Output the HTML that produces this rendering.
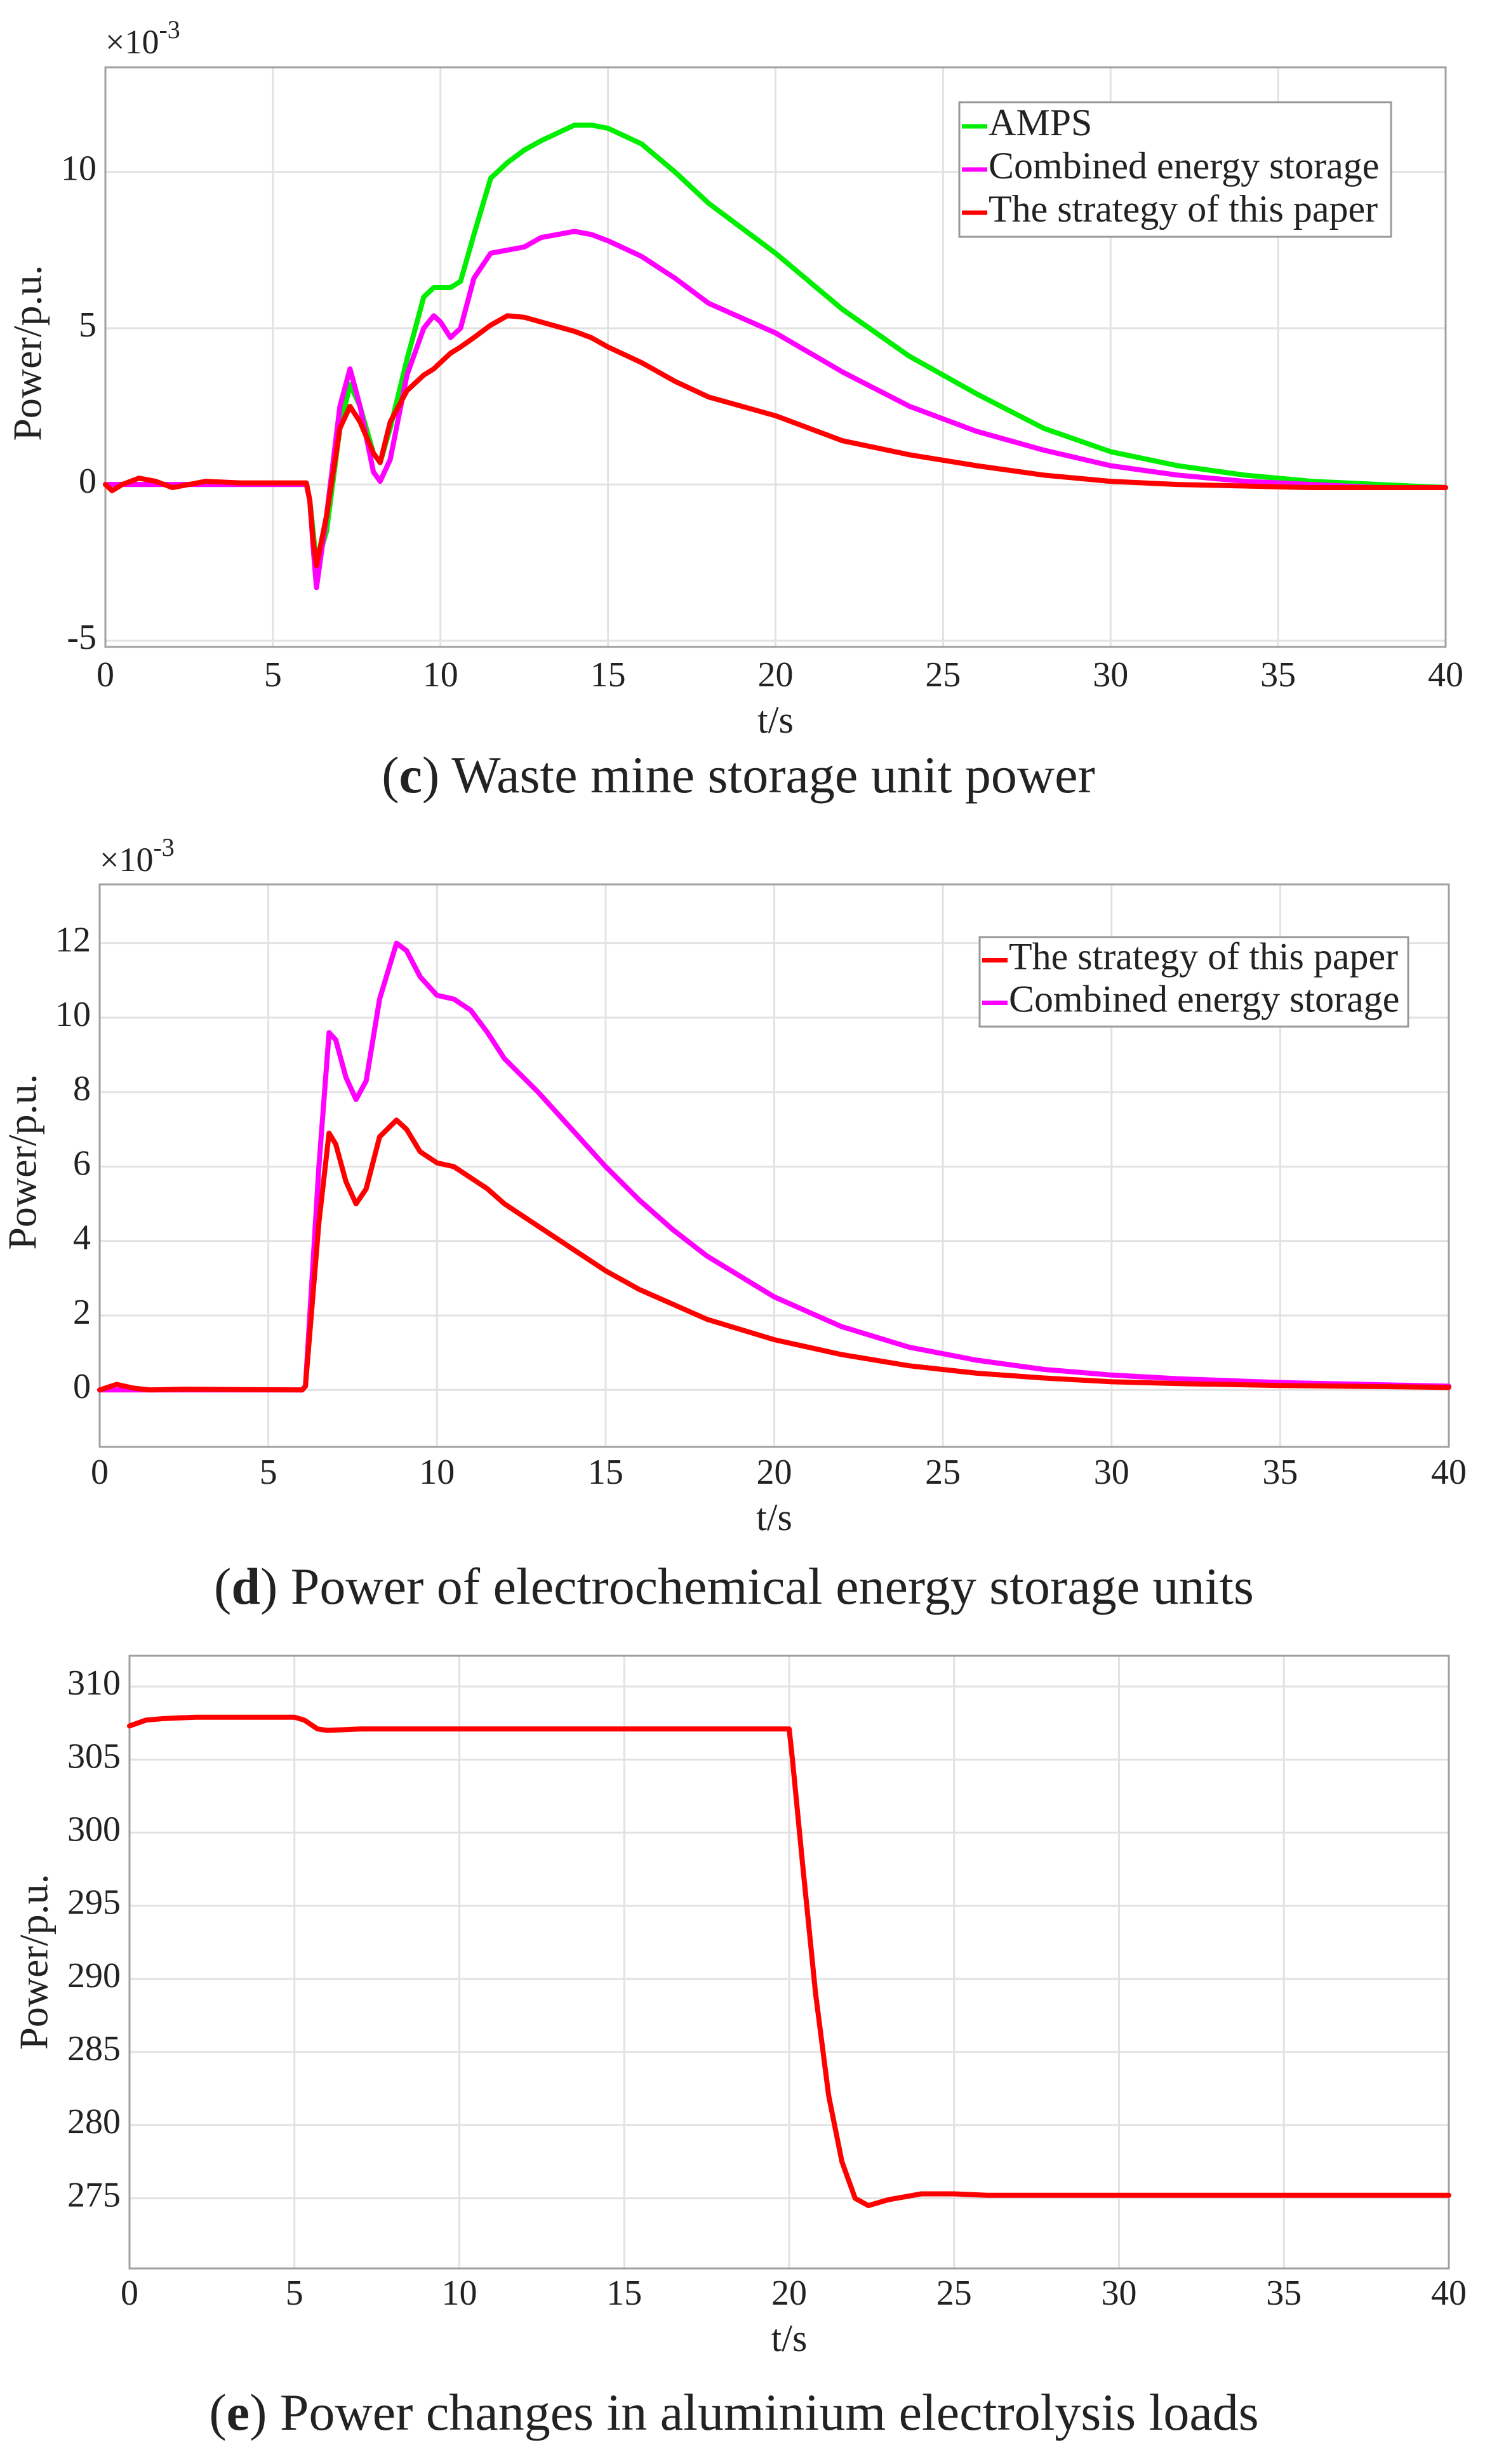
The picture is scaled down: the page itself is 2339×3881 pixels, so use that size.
<!DOCTYPE html>
<html><head><meta charset="utf-8">
<style>
html,body{margin:0;padding:0;background:#fff;}
svg{display:block;}
text{font-family:"Liberation Serif",serif;fill:#222;}
</style></head>
<body>
<svg id="fig" width="2339" height="3881" viewBox="0 0 2339 3881" xmlns="http://www.w3.org/2000/svg">
<rect x="0" y="0" width="2339" height="3881" fill="#fff"/>
</svg>
<script>
// ---------- Chart (c) data ----------
const cT = [0,0.2,0.5,1,1.5,2,3,4,5,6,6.1,6.2,6.3,6.6,7,7.3,7.6,8,8.2,8.5,9,9.5,9.8,10,10.3,10.6,11,11.5,12,12.5,13,14,14.5,15,16,17,18,20,22,24,26,28,30,32,34,36,38,40];
const cAMPS = [0,0,0,0,0,0,0,0,0,0,-0.5,-1.5,-2.6,-1.5,1.8,3.2,2.5,1,0.7,1.8,4,6,6.3,6.3,6.3,6.5,8,9.8,10.3,10.7,11,11.5,11.5,11.4,10.9,10,9,7.4,5.6,4.1,2.9,1.8,1.05,0.6,0.3,0.1,0,-0.1];
const cComb = [0,0,0,0,0,0,0,0,0,0,-0.5,-2,-3.3,-1,2.5,3.7,2.5,0.4,0.1,0.8,3.5,5,5.4,5.2,4.7,5,6.6,7.4,7.5,7.6,7.9,8.1,8,7.8,7.3,6.6,5.8,4.85,3.6,2.5,1.7,1.1,0.6,0.3,0.1,0,-0.1,-0.1];
const cStrat = [0,-0.2,0,0.2,0.1,-0.1,0.1,0.05,0.05,0.05,-0.5,-1.8,-2.6,-1,1.8,2.5,2,1,0.7,2,3,3.5,3.7,3.9,4.2,4.4,4.7,5.1,5.4,5.35,5.2,4.9,4.7,4.4,3.9,3.3,2.8,2.2,1.4,0.95,0.6,0.3,0.1,0,-0.05,-0.1,-0.1,-0.1];
const cXTicks = [0,5,10,15,20,25,30,35,40];
const cYTicks = [-5,0,5,10];
const cYTickLabels = ["-5","0","5","10"];

// ---------- Chart (d) data ----------
const dT = [0,0.5,1,1.5,2.5,6,6.1,6.5,6.8,7,7.3,7.6,7.9,8.3,8.8,9.1,9.5,10,10.5,11,11.5,12,13,14,15,16,17,18,20,22,24,26,28,30,32,35,40];
const dComb = [0,0,0,0,0,0,0.1,6,9.6,9.4,8.4,7.8,8.3,10.5,12,11.8,11.1,10.6,10.5,10.2,9.6,8.9,8,7,6,5.1,4.3,3.6,2.5,1.7,1.15,0.8,0.55,0.4,0.3,0.2,0.1];
const dStrat = [0,0.15,0.05,0,0.02,0,0.1,4.5,6.9,6.6,5.6,5,5.4,6.8,7.25,7,6.4,6.1,6,5.7,5.4,5,4.4,3.8,3.2,2.7,2.3,1.9,1.35,0.95,0.65,0.45,0.32,0.22,0.17,0.12,0.07];
const dXTicks = [0,5,10,15,20,25,30,35,40];
const dYTicks = [0,2,4,6,8,10,12];
const dYTickLabels = ["0","2","4","6","8","10","12"];

// ---------- Chart (e) data ----------
const eT = [0,0.5,1,2,5,5.3,5.7,6,7,8,20,20.1,20.4,20.8,21.2,21.6,22,22.4,23,24,25,26,28,40];
const eLoad = [307.3,307.7,307.8,307.9,307.9,307.7,307.1,307,307.1,307.1,307.1,305,298,289,282,277.5,275,274.5,274.9,275.3,275.3,275.2,275.2,275.2];
const eXTicks = [0,5,10,15,20,25,30,35,40];
const eYTicks = [275,280,285,290,295,300,305,310];
const eYTickLabels = ["275","280","285","290","295","300","305","310"];

const NS = "http://www.w3.org/2000/svg";
const svg = document.getElementById('fig');
function mk(tag, attrs, parent){
  const e = document.createElementNS(NS, tag);
  for (const k in attrs) e.setAttribute(k, attrs[k]);
  (parent||svg).appendChild(e);
  return e;
}

function drawChart(cfg){
  const g = mk('g', {});
  
  
  const sx = t => cfg.left + (t - cfg.xmin) / (cfg.xmax - cfg.xmin) * (cfg.right - cfg.left);
  const sy = v => cfg.bottom - (v - cfg.ymin) / (cfg.ymax - cfg.ymin) * (cfg.bottom - cfg.top);
  cfg.xticks.forEach(t => {
    const l = mk('line', {x1:sx(t), x2:sx(t), y1:cfg.top, y2:cfg.bottom, stroke:'#e2e2e2', 'stroke-width':3}, g);
    
    
  });
  cfg.yticks.forEach(v => {
    const l = mk('line', {x1:cfg.left, x2:cfg.right, y1:sy(v), y2:sy(v), stroke:'#e2e2e2', 'stroke-width':3}, g);
    
    
  });
  const box = mk('rect', {x:cfg.left, y:cfg.top, width:cfg.right-cfg.left, height:cfg.bottom-cfg.top, fill:'none', stroke:'#a0a0a0', 'stroke-width':3}, g);
  
  
  cfg.xticks.forEach(t => {
    const tx = mk('text', {x:sx(t), y:cfg.xLabelY, 'font-size':56, 'text-anchor':'middle', 'dominant-baseline':'middle'}, g);
    tx.textContent = String(t);
    
    
  });
  cfg.yticks.forEach((v,i) => {
    const tx = mk('text', {x:cfg.left-14, y:sy(v), 'font-size':56, 'text-anchor':'end', 'dominant-baseline':'middle'}, g);
    tx.textContent = cfg.ylabels[i];
    
    
  });
  cfg.series.forEach(s => {
    let d = '';
    s.t.forEach((t,i) => { d += (i ? 'L' : 'M') + sx(t).toFixed(1) + ' ' + sy(s.v[i]).toFixed(1); });
    const p = mk('path', {d:d, fill:'none', stroke:s.color, 'stroke-width':8, 'stroke-linejoin':'round', 'stroke-linecap':'round'}, g);
    
    
  });
  const xt = mk('text', {x:(cfg.left+cfg.right)/2, y:cfg.xTitleY, 'font-size':60, 'text-anchor':'middle', 'dominant-baseline':'middle'}, g);
  xt.textContent = 't/s';
  
  
  const yt = mk('text', {x:0, y:0, 'font-size':64, 'text-anchor':'middle', 'dominant-baseline':'middle', transform:'translate(' + cfg.yTitleX + ',' + cfg.yTitleY + ') rotate(-90)'}, g);
  yt.textContent = 'Power/p.u.';
  
  
  if (cfg.exp) {
    const ex = mk('text', {x:cfg.left, y:cfg.expY, 'font-size':54}, g);
    ex.textContent = '×10';
    const sup = mk('tspan', {dy:-24, 'font-size':40}, ex);
    sup.textContent = '-3';
    
    
  }
  const cap = mk('text', {x:cfg.capX, y:cfg.capY, 'font-size':82, 'text-anchor':'middle', 'dominant-baseline':'middle'}, g);
  const c1 = mk('tspan', {}, cap); c1.textContent = '(';
  const c2 = mk('tspan', {'font-weight':'bold'}, cap); c2.textContent = cfg.capLetter;
  const c3 = mk('tspan', {}, cap); c3.textContent = ') ' + cfg.capText;
  
  
  if (cfg.legend) {
    const L = cfg.legend;
    const lg = mk('g', {}, g);
    
    
    mk('rect', {x:L.x, y:L.y, width:L.w, height:L.h, fill:'#fff', stroke:'#999', 'stroke-width':3}, lg);
    L.items.forEach((it,i) => {
      const cy = L.y + L.pad + i*L.row + L.row/2;
      const e = mk('g', {}, lg);
      
      
      mk('line', {x1:L.x+4, x2:L.x+44, y1:cy, y2:cy, stroke:it.color, 'stroke-width':7}, e);
      const tx = mk('text', {x:L.x+46, y:cy, 'font-size':60, 'dominant-baseline':'middle'}, e);
      tx.textContent = it.label;
    });
  }
}

drawChart({
  name:'chart-c-waste-mine-storage', left:166, right:2277, top:106, bottom:1019,
  xmin:0, xmax:40, ymin:-5.2, ymax:13.35,
  xticks:cXTicks, yticks:cYTicks, ylabels:cYTickLabels,
  xLabelY:1068, xTitleY:1140, yTitleX:50, yTitleY:556, exp:true, expY:84,
  capX:1163, capY:1229, capLetter:'c', capText:'Waste mine storage unit power',
  series:[
    {name:'series-amps', t:cT, v:cAMPS, color:'#00ee00'},
    {name:'series-combined-storage', t:cT, v:cComb, color:'#ff00ff'},
    {name:'series-strategy', t:cT, v:cStrat, color:'#ff0000'}
  ],
  legend:{x:1511, y:161, w:680, h:212, pad:4, row:68, items:[
    {label:'AMPS', color:'#00ee00'},
    {label:'Combined energy storage', color:'#ff00ff'},
    {label:'The strategy of this paper', color:'#ff0000'}
  ]}
});

drawChart({
  name:'chart-d-electrochemical-storage', left:157, right:2282, top:1393, bottom:2279,
  xmin:0, xmax:40, ymin:-1.53, ymax:13.58,
  xticks:dXTicks, yticks:dYTicks, ylabels:dYTickLabels,
  xLabelY:2324, xTitleY:2396, yTitleX:42, yTitleY:1830, exp:true, expY:1372,
  capX:1156, capY:2507, capLetter:'d', capText:'Power of electrochemical energy storage units',
  series:[
    {name:'series-combined-storage', t:dT, v:dComb, color:'#ff00ff'},
    {name:'series-strategy', t:dT, v:dStrat, color:'#ff0000'}
  ],
  legend:{x:1543, y:1476, w:675, h:141, pad:3, row:67, items:[
    {label:'The strategy of this paper', color:'#ff0000'},
    {label:'Combined energy storage', color:'#ff00ff'}
  ]}
});

drawChart({
  name:'chart-e-aluminium-load', left:204, right:2282, top:2608, bottom:3573,
  xmin:0, xmax:40, ymin:270.2, ymax:312.1,
  xticks:eXTicks, yticks:eYTicks, ylabels:eYTickLabels,
  xLabelY:3617, xTitleY:3689, yTitleX:60, yTitleY:3090, exp:false,
  capX:1156, capY:3808, capLetter:'e', capText:'Power changes in aluminium electrolysis loads',
  series:[
    {name:'series-load-power', t:eT, v:eLoad, color:'#ff0000'}
  ]
});
</script>
</body></html>
